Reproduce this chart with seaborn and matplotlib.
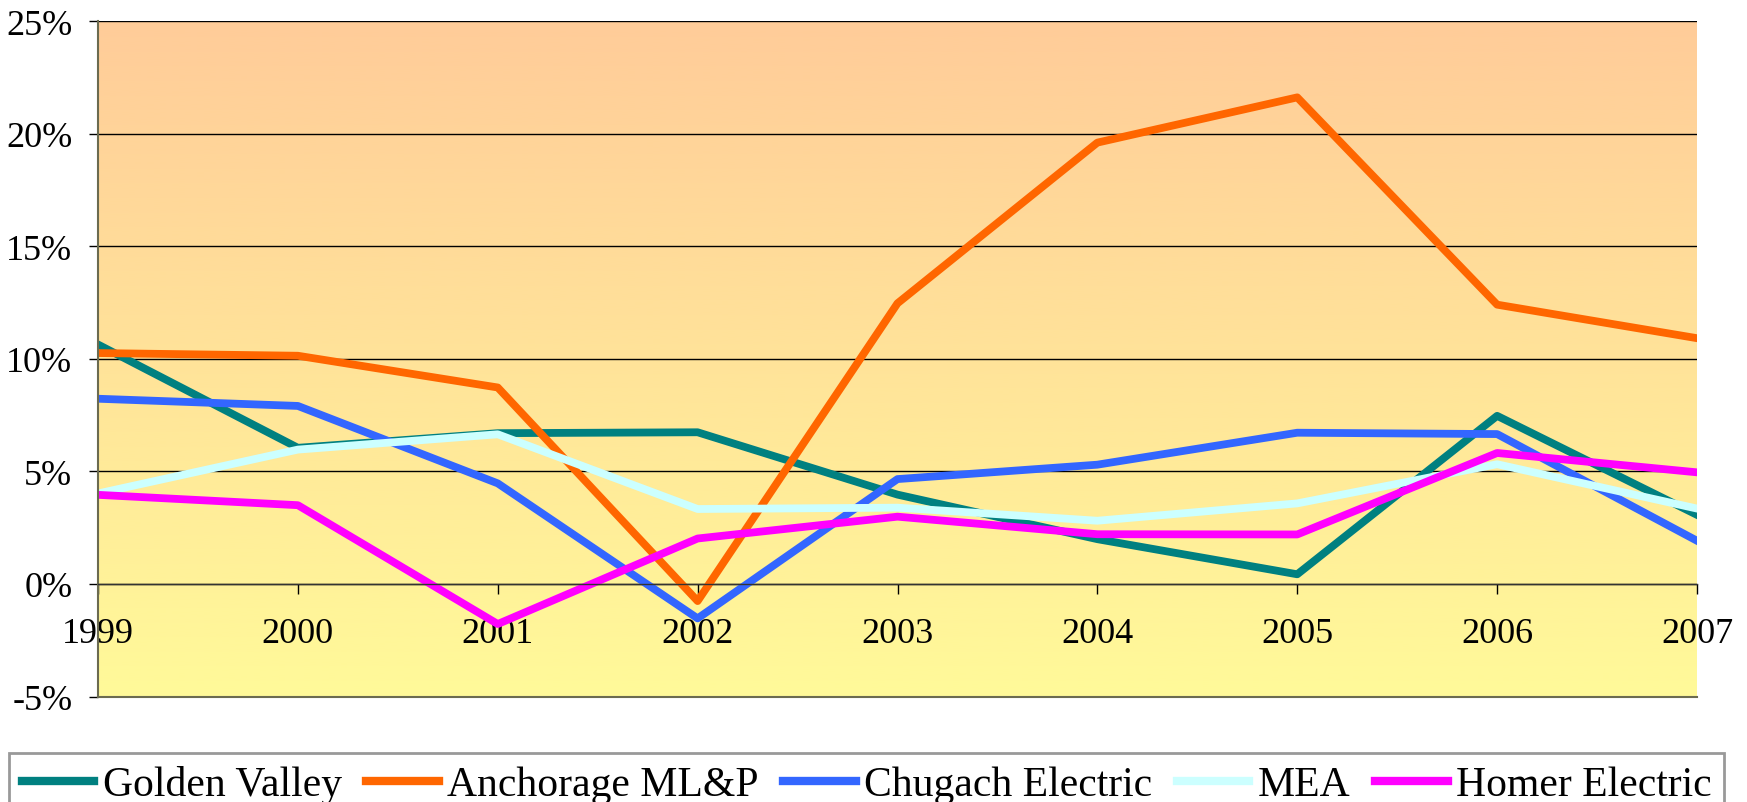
import numpy as np
import pandas as pd
import matplotlib
matplotlib.use("Agg")
import matplotlib.pyplot as plt
from matplotlib.colors import LinearSegmentedColormap
from matplotlib.lines import Line2D
import seaborn as sns

years = [1999, 2000, 2001, 2002, 2003, 2004, 2005, 2006, 2007]
golden_valley = [10.64, 6.05, 6.70, 6.74, 3.97, 1.99, 0.43, 7.47, 3.07]
anchorage = [10.26, 10.14, 8.73, -0.76, 12.47, 19.61, 21.62, 12.41, 10.92]
chugach = [8.23, 7.91, 4.47, -1.53, 4.66, 5.30, 6.72, 6.66, 1.92]
mea = [4.02, 5.97, 6.65, 3.33, 3.39, 2.81, 3.58, 5.32, 3.35]
homer = [3.96, 3.50, -1.78, 2.02, 2.99, 2.21, 2.20, 5.82, 4.96]

series_names = ["Golden Valley", "Anchorage ML&P", "Chugach Electric", "MEA", "Homer Electric"]
series_values = [golden_valley, anchorage, chugach, mea, homer]
colors = ["#008080", "#FF6600", "#3366FF", "#CCFFFF", "#FF00FF"]
y_ticks = [-5, 0, 5, 10, 15, 20, 25]

rows = []
for name, vals in zip(series_names, series_values):
    for y, v in zip(years, vals):
        rows.append({"Year": y, "Value": v, "Utility": name})
df = pd.DataFrame(rows)

plt.rcParams['font.family'] = ['Liberation Serif', 'DejaVu Serif']

fig = plt.figure(figsize=(17.47, 8.03), dpi=100)
ax = fig.add_axes([98/1747, 1-697.5/803, (1697-98)/1747, (697.5-22.3)/803])

# gradient background
cmap = LinearSegmentedColormap.from_list("bg", ["#FFFA99", "#FFCC99"])
grad = np.linspace(0, 1, 256).reshape(-1, 1)
ax.imshow(grad, extent=(0, 1, 0, 1), transform=ax.transAxes, aspect='auto',
          cmap=cmap, origin='lower', zorder=-10, interpolation='bilinear')

sns.lineplot(data=df, x="Year", y="Value", hue="Utility", hue_order=series_names,
             palette=colors, linewidth=5.6, ax=ax, legend=False, sort=False)

ax.set_xlim(1999, 2007)
ax.set_ylim(-5, 25)
ax.set_yticks(y_ticks)
ax.set_yticklabels([f"{t}%" for t in y_ticks])
ax.set_xticks(years)
ax.set_xticklabels([str(y) for y in years])
ax.set_xlabel("")
ax.set_ylabel("")

ax.set_axisbelow(True)
ax.yaxis.grid(True, color="black", linewidth=1.0)
ax.xaxis.grid(False)

for s in ["top", "right"]:
    ax.spines[s].set_visible(False)
ax.spines["left"].set_color("#6b6b50")
ax.spines["left"].set_linewidth(1.5)
ax.spines["bottom"].set_position(("data", 0))
ax.spines["bottom"].set_color("#333333")
ax.spines["bottom"].set_linewidth(1.0)
ax.axhline(-5, color="#6b6b50", linewidth=1.5, zorder=1, clip_on=False)

ax.tick_params(axis="y", direction="out", length=6.5, width=1, pad=12, labelsize=26, colors="black")
ax.tick_params(axis="x", direction="out", length=7, width=1, pad=17, labelsize=26, colors="black")

handles = [Line2D([], [], color=c, linewidth=6) for c in colors]
leg = fig.legend(handles, series_names, loc="upper left",
                 bbox_to_anchor=(9/1747, 0, (1724-9)/1747, 1-754/803),
                 mode="expand", ncol=5, fontsize=30, frameon=True, fancybox=False,
                 edgecolor="#808080", handlelength=1.75, handletextpad=0.2,
                 columnspacing=0.8, borderpad=0.3, borderaxespad=0)
leg.get_frame().set_linewidth(2)

fig.savefig("out.png", dpi=100)
